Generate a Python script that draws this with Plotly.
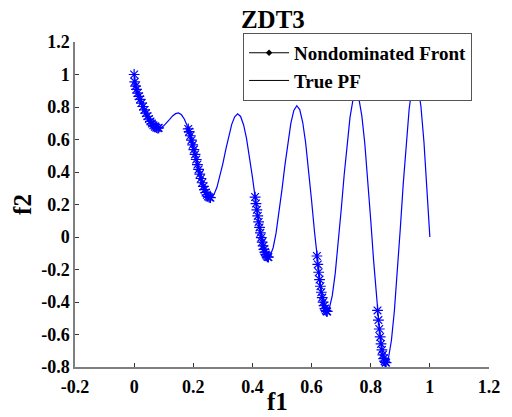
import plotly.graph_objects as go

# True Pareto front curve
pf_f1 = [0.00, 0.01, 0.02, 0.03, 0.04, 0.05, 0.06, 0.07, 0.08, 0.09,
         0.10, 0.11, 0.12, 0.13, 0.14, 0.15, 0.16, 0.17, 0.18, 0.19,
         0.20, 0.21, 0.22, 0.23, 0.24, 0.25, 0.26, 0.27, 0.28, 0.29,
         0.30, 0.31, 0.32, 0.33, 0.34, 0.35, 0.36, 0.37, 0.38, 0.39,
         0.40, 0.41, 0.42, 0.43, 0.44, 0.45, 0.46, 0.47, 0.48, 0.49,
         0.50, 0.51, 0.52, 0.53, 0.54, 0.55, 0.56, 0.57, 0.58, 0.59,
         0.60, 0.61, 0.62, 0.63, 0.64, 0.65, 0.66, 0.67, 0.68, 0.69,
         0.70, 0.71, 0.72, 0.73, 0.74, 0.75, 0.76, 0.77, 0.78, 0.79,
         0.80, 0.81, 0.82, 0.83, 0.84, 0.85, 0.86, 0.87, 0.88, 0.89,
         0.90, 0.91, 0.92, 0.93, 0.94, 0.95, 0.96, 0.97, 0.98, 0.99, 1.00]
pf_f2 = [1.000, 0.897, 0.847, 0.803, 0.762, 0.726, 0.698, 0.679, 0.670, 0.672,
         0.684, 0.702, 0.724, 0.745, 0.759, 0.763, 0.752, 0.725, 0.682, 0.623,
         0.553, 0.477, 0.402, 0.334, 0.282, 0.250, 0.243, 0.262, 0.306, 0.372,
         0.452, 0.539, 0.622, 0.693, 0.740, 0.758, 0.742, 0.691, 0.607, 0.496,
         0.368, 0.233, 0.105, -0.004, -0.082, -0.121, -0.116, -0.066, 0.025, 0.149,
         0.293, 0.444, 0.585, 0.701, 0.779, 0.808, 0.784, 0.706, 0.579, 0.414,
         0.225, 0.031, -0.152, -0.303, -0.409, -0.456, -0.440, -0.361, -0.224, -0.044,
         0.163, 0.377, 0.575, 0.736, 0.844, 0.884, 0.851, 0.745, 0.575, 0.355,
         0.106, -0.150, -0.388, -0.583, -0.715, -0.772, -0.745, -0.637, -0.455, -0.218,
         0.051, 0.327, 0.582, 0.788, 0.925, 0.975, 0.933, 0.800, 0.586, 0.311, 0.000]

# Nondominated front points
nd_f1 = [0.000, 0.002, 0.005, 0.008, 0.012, 0.016, 0.020, 0.025, 0.030, 0.035,
         0.040, 0.045, 0.050, 0.055, 0.060, 0.065, 0.070, 0.075, 0.080, 0.083,
         0.183, 0.186, 0.190, 0.194, 0.198, 0.202, 0.206, 0.210, 0.214, 0.218,
         0.222, 0.226, 0.230, 0.234, 0.238, 0.242, 0.246, 0.250, 0.254, 0.258,
         0.409, 0.412, 0.415, 0.418, 0.421, 0.424, 0.427, 0.430, 0.433, 0.436,
         0.439, 0.442, 0.445, 0.448, 0.451, 0.454,
         0.618, 0.621, 0.624, 0.627, 0.630, 0.633, 0.636, 0.639, 0.642, 0.645,
         0.648, 0.651, 0.653,
         0.823, 0.826, 0.829, 0.832, 0.835, 0.838, 0.841, 0.844, 0.847, 0.850, 0.852]
nd_f2 = [1.000, 0.955, 0.928, 0.909, 0.886, 0.866, 0.847, 0.824, 0.803, 0.782,
         0.762, 0.743, 0.726, 0.711, 0.698, 0.687, 0.679, 0.673, 0.670, 0.672,
         0.665, 0.648, 0.623, 0.596, 0.567, 0.538, 0.508, 0.477, 0.446, 0.416,
         0.387, 0.360, 0.334, 0.311, 0.291, 0.274, 0.260, 0.250, 0.244, 0.242,
         0.246, 0.206, 0.167, 0.130, 0.093, 0.059, 0.026, -0.004, -0.031, -0.055,
         -0.076, -0.093, -0.107, -0.116, -0.122, -0.124,
         -0.117, -0.169, -0.217, -0.262, -0.303, -0.340, -0.373, -0.401, -0.423, -0.440,
         -0.452, -0.458, -0.458,
         -0.452, -0.511, -0.566, -0.615, -0.658, -0.695, -0.725, -0.748, -0.764, -0.772, -0.773]

x_ticks = [-0.2, 0, 0.2, 0.4, 0.6, 0.8, 1, 1.2]
y_ticks = [-0.8, -0.6, -0.4, -0.2, 0, 0.2, 0.4, 0.6, 0.8, 1, 1.2]
x_labels = ["-0.2", "0", "0.2", "0.4", "0.6", "0.8", "1", "1.2"]
y_labels = ["-0.8", "-0.6", "-0.4", "-0.2", "0", "0.2", "0.4", "0.6", "0.8", "1", "1.2"]

FONT = "Liberation Serif, Times New Roman, serif"
BLUE = "#0000ff"

fig = go.Figure()

fig.add_trace(go.Scatter(x=pf_f1, y=pf_f2, mode="lines",
                         line=dict(color=BLUE, width=1.2), showlegend=False))
fig.add_trace(go.Scatter(x=nd_f1, y=nd_f2, mode="markers",
                         marker=dict(symbol="asterisk-open", size=9, color=BLUE,
                                     line=dict(color=BLUE, width=1.2)),
                         showlegend=False))

# Legend entries (black, as in the reference)
fig.add_trace(go.Scatter(x=[None], y=[None], mode="lines+markers",
                         name="<b>Nondominated Front</b>",
                         line=dict(color="black", width=1),
                         marker=dict(symbol="diamond", size=5, color="black")))
fig.add_trace(go.Scatter(x=[None], y=[None], mode="lines", name="<b>True PF</b>",
                         line=dict(color="black", width=1)))

axis_common = dict(
    showgrid=False, zeroline=False, showline=True, linecolor="#7f7f7f",
    linewidth=1.5, ticks="inside", ticklen=4, tickcolor="#333333",
    tickfont=dict(family=FONT, size=18, color="black"),
    mirror=False, automargin=False,
)

fig.update_layout(
    width=512, height=417,
    margin=dict(l=75, r=23, t=42, b=50),
    paper_bgcolor="white", plot_bgcolor="white",
    title=dict(text="<b>ZDT3</b>", x=0.533, xref="container",
               y=0.955, yref="container", xanchor="center", yanchor="middle",
               font=dict(family=FONT, size=25, color="black")),
    legend=dict(x=0.406, y=1.028, xanchor="left", yanchor="top",
                bgcolor="white", bordercolor="#555555", borderwidth=1,
                font=dict(family=FONT, size=19, color="black"),
                itemwidth=40, tracegroupgap=0),
    xaxis=dict(range=[-0.2, 1.2], tickvals=x_ticks,
               ticktext=["<b>%s</b>" % t for t in x_labels],
               ticklabelstandoff=3,
               **axis_common),
    yaxis=dict(range=[-0.8, 1.2], tickvals=y_ticks,
               ticktext=["<b>%s</b>" % t for t in y_labels],
               title=dict(text="<b>f2</b>", standoff=2,
                          font=dict(family=FONT, size=25, color="black")),
               **axis_common),
    annotations=[dict(text="<b>f1</b>", xref="paper", yref="paper",
                      x=0.488, y=-0.105, xanchor="center", yanchor="middle",
                      showarrow=False,
                      font=dict(family=FONT, size=25, color="black"))],
)

fig.write_html("out.html")
